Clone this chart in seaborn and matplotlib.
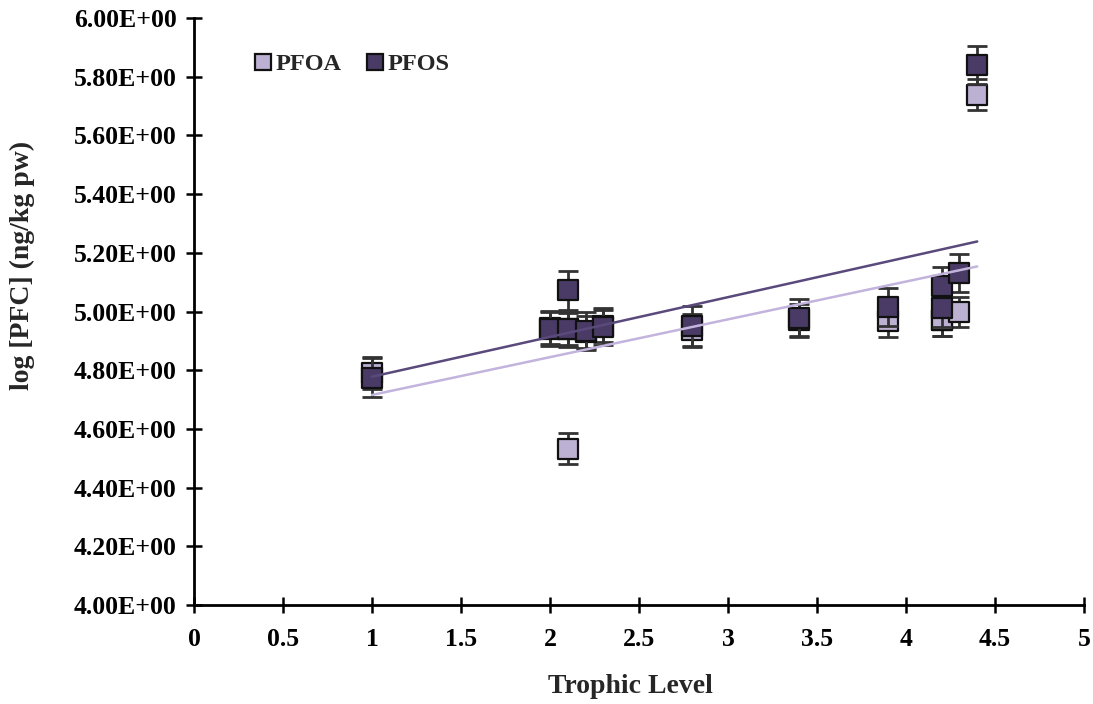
import numpy as np
import pandas as pd
import matplotlib
matplotlib.use("Agg")
import matplotlib.pyplot as plt
from matplotlib.lines import Line2D
from matplotlib.ticker import FuncFormatter, MultipleLocator
import seaborn as sns

# Trophic level of each sample and log concentrations (ng/kg pw)
trophic_level = [1.0, 2.0, 2.1, 2.1, 2.2, 2.3, 2.8, 3.4, 3.9, 4.2, 4.2, 4.3, 4.4]
pfoa_log = [4.79, 4.945, 4.533, 4.94, 4.93, 4.95, 4.937, 4.97, 4.969, 4.97, 4.97, 4.998, 5.738]
pfoa_err = [0.055, 0.055, 0.053, 0.055, 0.055, 0.055, 0.055, 0.055, 0.056, 0.055, 0.055, 0.05, 0.053]
pfos_log = [4.775, 4.942, 5.072, 4.94, 4.933, 4.948, 4.95, 4.978, 5.015, 5.087, 5.012, 5.131, 5.84]
pfos_err = [0.065, 0.06, 0.067, 0.06, 0.064, 0.063, 0.07, 0.065, 0.066, 0.065, 0.065, 0.064, 0.065]

series_names = ["PFOA", "PFOS"]
fill_colors = {"PFOA": "#bdb1d3", "PFOS": "#4a3b66"}
trend_colors = {"PFOA": "#c2b4dd", "PFOS": "#5a4a7c"}

df = pd.DataFrame({
    "Trophic Level": trophic_level * 2,
    "logPFC": pfoa_log + pfos_log,
    "err": pfoa_err + pfos_err,
    "Compound": ["PFOA"] * len(pfoa_log) + ["PFOS"] * len(pfos_log),
})

sns.set_theme(style="white")
plt.rcParams["font.family"] = ["Liberation Serif", "DejaVu Serif"]
plt.rcParams["font.weight"] = "bold"

fig = plt.figure(figsize=(10.93, 7.04), dpi=100)
ax = fig.add_axes([0.1775, 0.1406, 0.8143, 0.8338])

for z, name in enumerate(series_names):
    sub = df[df["Compound"] == name]
    # error bars sit under the square markers
    ax.errorbar(sub["Trophic Level"], sub["logPFC"], yerr=sub["err"], fmt="none",
                ecolor="#333333", elinewidth=2.0, capsize=7.5, capthick=2.0,
                zorder=2 + 2 * z)
    sns.scatterplot(data=sub, x="Trophic Level", y="logPFC", marker="s", s=205,
                    color=fill_colors[name], edgecolor="#111111", linewidth=1.6,
                    ax=ax, zorder=3 + 2 * z, legend=False)

# linear trend lines over the observed trophic range
for name in series_names:
    sub = df[df["Compound"] == name]
    sns.regplot(data=sub, x="Trophic Level", y="logPFC", scatter=False, ci=None,
                truncate=True, ax=ax,
                line_kws={"color": trend_colors[name], "linewidth": 1.8, "zorder": 7})

ax.set_xlim(0, 5)
ax.set_ylim(4.0, 6.0)
ax.xaxis.set_major_locator(MultipleLocator(0.5))
ax.yaxis.set_major_locator(MultipleLocator(0.2))
ax.xaxis.set_major_formatter(FuncFormatter(lambda v, p: f"{v:g}"))
ax.yaxis.set_major_formatter(FuncFormatter(lambda v, p: f"{v:.2E}"))

for side in ["top", "right"]:
    ax.spines[side].set_visible(False)
for side in ["left", "bottom"]:
    ax.spines[side].set_color("black")
    ax.spines[side].set_linewidth(2.0)

ax.tick_params(axis="both", direction="inout", length=11, width=1.8, colors="black",
               labelsize=18.5, left=True, bottom=True)
ax.tick_params(axis="y", pad=7)
ax.tick_params(axis="x", pad=11)
for lbl in ax.get_xticklabels() + ax.get_yticklabels():
    lbl.set_fontweight("bold")

ax.set_xlabel("Trophic Level", fontsize=20, fontweight="bold")
ax.xaxis.set_label_coords(0.49, -0.118)
ax.set_ylabel("log [PFC] (ng/kg pw)", fontsize=20, fontweight="bold")
ax.yaxis.set_label_coords(-0.179, 0.578)

handles = [Line2D([], [], linestyle="none", marker="s", markersize=12,
                  markerfacecolor=fill_colors[n], markeredgecolor="#111111",
                  markeredgewidth=1.6) for n in series_names]
ax.legend(handles, series_names, loc="upper left", bbox_to_anchor=(0.042, 0.977),
          ncol=2, frameon=False, handlelength=0.8, handletextpad=0.1,
          columnspacing=1.0, prop={"size": 17.5, "weight": "bold"})

fig.savefig("out.png", dpi=100)
